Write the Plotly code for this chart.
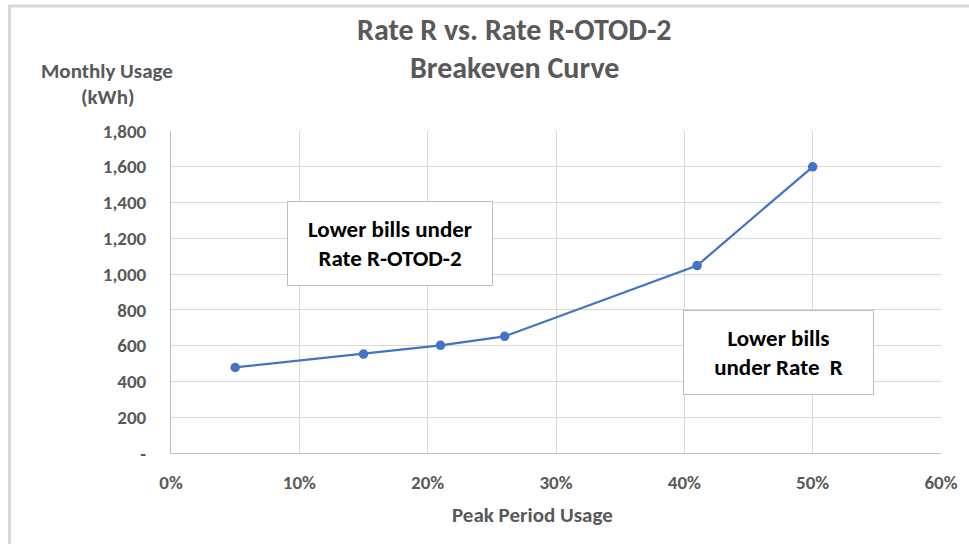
import plotly.graph_objects as go

peak_share = [0.05, 0.15, 0.21, 0.26, 0.41, 0.50]
monthly_kwh = [478, 553, 602, 652, 1048, 1600]

y_tickvals = [0, 200, 400, 600, 800, 1000, 1200, 1400, 1600, 1800]
y_ticktext = ["-", "200", "400", "600", "800", "1,000", "1,200", "1,400", "1,600", "1,800"]
x_tickvals = [0, 0.1, 0.2, 0.3, 0.4, 0.5, 0.6]
x_ticktext = ["0%", "10%", "20%", "30%", "40%", "50%", "60%"]

FONT = "Carlito, Lato, 'Liberation Sans', sans-serif"
GRAY = "#595959"

L, T, PW, PH = 171, 131, 770, 322
W, H = 969, 544


def px(xs):
    return (xs - L) / PW


def py(ys):
    return (T + PH - ys) / PH


fig = go.Figure()
fig.add_trace(go.Scatter(
    x=peak_share, y=monthly_kwh, mode="lines+markers",
    line=dict(color="#4472C4", width=2.25),
    marker=dict(color="#4472C4", size=9.5),
    showlegend=False, hoverinfo="x+y",
))

fig.update_layout(
    width=W, height=H,
    margin=dict(l=L, r=W - L - PW, t=T, b=H - T - PH, pad=0),
    paper_bgcolor="white", plot_bgcolor="white",
    font=dict(family=FONT, color=GRAY),
    xaxis=dict(
        range=[0, 0.6], tickvals=x_tickvals, ticktext=x_ticktext,
        showgrid=True, gridcolor="#d9d9d9", gridwidth=1,
        showline=True, linecolor="#bfbfbf", linewidth=1,
        ticks="", ticklabelstandoff=12, zeroline=False,
        tickfont=dict(family=FONT, size=19, color=GRAY, weight="bold"),
    ),
    yaxis=dict(
        range=[0, 1800], tickvals=y_tickvals, ticktext=y_ticktext,
        showgrid=True, gridcolor="#d9d9d9", gridwidth=1,
        showline=True, linecolor="#bfbfbf", linewidth=1,
        ticks="", ticklabelstandoff=20, zeroline=False,
        tickfont=dict(family=FONT, size=19, color=GRAY, weight="bold"),
    ),
    shapes=[
        dict(type="line", xref="paper", yref="paper",
             x0=px(9.5), x1=px(9.5), y0=py(5), y1=py(560),
             line=dict(color="#d9d9d9", width=3), layer="below"),
        dict(type="line", xref="paper", yref="paper",
             x0=px(8), x1=px(980), y0=py(6), y1=py(6),
             line=dict(color="#d9d9d9", width=3), layer="below"),
    ],
)

title_font = dict(family=FONT, size=30, color=GRAY, weight="bold")
fig.add_annotation(text="Rate R vs. Rate R-OTOD-2", xref="paper", yref="paper",
                   x=px(514), y=py(30), showarrow=False,
                   font=title_font, xanchor="center", yanchor="middle")
fig.add_annotation(text="Breakeven Curve", xref="paper", yref="paper",
                   x=px(514), y=py(67), showarrow=False,
                   font=title_font, xanchor="center", yanchor="middle")

ytitle_font = dict(family=FONT, size=21, color=GRAY, weight="bold")
fig.add_annotation(text="Monthly Usage", xref="paper", yref="paper",
                   x=px(107), y=py(71), showarrow=False,
                   font=ytitle_font, xanchor="center", yanchor="middle")
fig.add_annotation(text="(kWh)", xref="paper", yref="paper",
                   x=px(107), y=py(97), showarrow=False,
                   font=ytitle_font, xanchor="center", yanchor="middle")
fig.add_annotation(text="Peak Period Usage", xref="paper", yref="paper",
                   x=px(532), y=py(515), showarrow=False,
                   font=ytitle_font, xanchor="center", yanchor="middle")

box_font = dict(family=FONT, size=23, color="black", weight="bold")
fig.add_annotation(text="Lower bills under<br>Rate R-OTOD-2", xref="x", yref="y",
                   x=0.1706, y=1171, showarrow=False, font=box_font,
                   bgcolor="white", bordercolor="#bfbfbf", borderwidth=1,
                   width=202, height=81, align="center")
fig.add_annotation(text="Lower bills<br>under Rate  R", xref="x", yref="y",
                   x=0.4734, y=562, showarrow=False, font=box_font,
                   bgcolor="white", bordercolor="#bfbfbf", borderwidth=1,
                   width=187, height=81, align="center")

fig.write_html("out.html", config={"displayModeBar": False},
               post_script="document.body.style.margin='0';document.body.style.overflow='hidden';")
